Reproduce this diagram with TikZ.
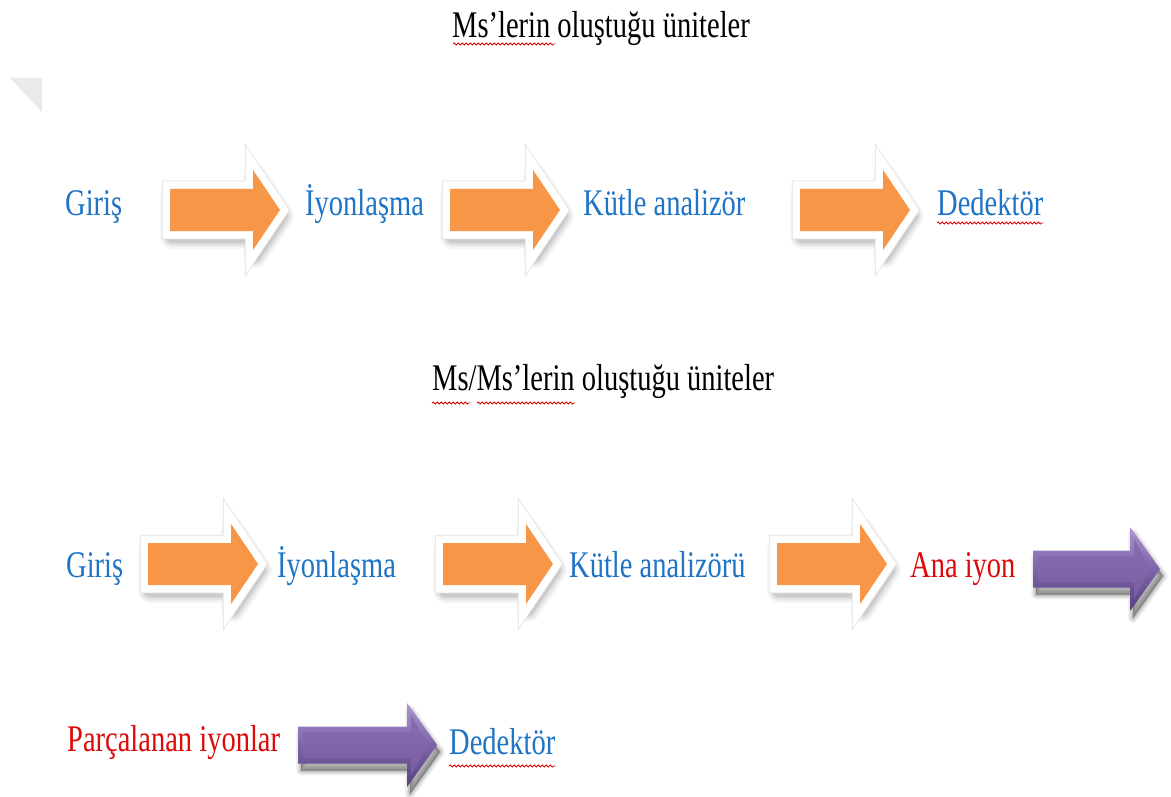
\documentclass[tikz,border=0pt]{standalone}
\usepackage{graphicx}
\usepackage{fontspec}
\setmainfont{Liberation Serif}
\usetikzlibrary{decorations.pathmorphing}

\definecolor{txtblue}{HTML}{1F74C6}
\definecolor{txtred}{HTML}{DC0A0A}
\definecolor{arroworange}{HTML}{F79646}
\definecolor{purplemid}{HTML}{7F63A8}
\definecolor{purplelight}{HTML}{AC96D2}
\definecolor{purpledark}{HTML}{56407E}
\definecolor{cornergray}{HTML}{EAEAEA}

% tall Times-like lettering
\newcommand\tall[1]{\scalebox{1}[1.32]{#1}}

% block arrow outline: tail at (0,0) centre line
\newcommand\orangeshape{(0,-21) -- (83,-21) -- (83,-40) -- (110,0) -- (83,40) -- (83,21) -- (0,21) -- cycle}

\tikzset{
  lbl/.style={anchor=base west, inner sep=0pt, font=\fontsize{28.5}{30}\selectfont},
  blue lbl/.style={lbl, text=txtblue},
  red lbl/.style={lbl, text=txtred},
  title lbl/.style={lbl, text=black},
  squiggle/.style={draw=red!85!black, line width=0.8pt,
    decorate, decoration={snake, segment length=4pt, amplitude=1pt}},
  pics/orangearrow/.style={code={
    \foreach \w/\o in {24/0.035,20/0.045,16/0.06,12/0.08}{
      \draw[black, draw opacity=\o, line width=\w pt, line join=round,
            shift={(2,6)}] \orangeshape;}
    \draw[black!12, line width=16.5pt, line join=miter] \orangeshape;
    \filldraw[white, line width=15pt, line join=miter] \orangeshape;
    \fill[arroworange] \orangeshape;
  }},
  pics/purplearrow/.style={code={
    \pgfmathsetmacro\hb{#1-30}
    \pgfmathsetmacro\hi{#1-26}
    \pgfmathsetmacro\tp{#1-9}
    \foreach \w/\o in {10/0.05,7/0.07,4/0.09,1/0.12}{
      \filldraw[black, fill opacity=\o, draw opacity=\o, line width=\w pt,
        line join=round, shift={(3,7)}]
        (0,-18.5) -- (\hb,-18.5) -- (\hb,-42) -- (#1,0) -- (\hb,42) -- (\hb,18.5) -- (0,18.5) -- cycle;}
    \shade[top color=purplelight, bottom color=purpledark, middle color=purplemid]
      (0,-18.5) -- (\hb,-18.5) -- (\hb,-42) -- (#1,0) -- (\hb,42) -- (\hb,18.5) -- (0,18.5) -- cycle;
    \shade[top color=purplemid!80!purplelight, bottom color=purplemid!85!purpledark]
      (5,-13) -- (\hi,-13) -- (\hi,-30) -- (\tp,0) -- (\hi,30) -- (\hi,13) -- (5,13) -- cycle;
  }}
}

\begin{document}
\begin{tikzpicture}[x=1pt, y=-1pt]
  \fill[white] (0,0) rectangle (1171,797);
  \useasboundingbox (0,0) rectangle (1171,797);

  % small grey corner mark
  \fill[cornergray] (10,78) -- (42,78) -- (42,112) -- cycle;

  % ---- first chain ----
  \node[title lbl] (t1) at (452,38) {\tall{Ms’lerin oluştuğu üniteler}};

  \node[blue lbl] (a1) at (65,215)  {\tall{Giriş}};
  \node[blue lbl] (a2) at (305,215) {\tall{İyonlaşma}};
  \node[blue lbl] (a3) at (583,215) {\tall{Kütle analizör}};
  \node[blue lbl] (a4) at (937,215) {\tall{Dedektör}};

  \pic at (170,210) {orangearrow};
  \pic at (450,210) {orangearrow};
  \pic at (800,210) {orangearrow};

  % ---- second chain ----
  \node[title lbl] (t2) at (432,390) {\tall{Ms/Ms’lerin oluştuğu üniteler}};

  \node[blue lbl] (b1) at (66,577)  {\tall{Giriş}};
  \node[blue lbl] (b2) at (277,577) {\tall{İyonlaşma}};
  \node[blue lbl] (b3) at (569,577) {\tall{Kütle analizörü}};
  \node[red lbl]  (b4) at (910,577) {\tall{Ana iyon}};

  \pic at (148,564) {orangearrow};
  \pic at (443,564) {orangearrow};
  \pic at (777,564) {orangearrow};
  \pic at (1033,569) {purplearrow=127};

  \node[red lbl]  (c1) at (67,751)  {\tall{Parçalanan iyonlar}};
  \node[blue lbl] (c2) at (449,754) {\tall{Dedektör}};

  \pic at (298,745) {purplearrow=139};

  % spelling marks
  \draw[squiggle] (453,44) -- (555,44);
  \draw[squiggle] (432,403) -- (470,403);
  \draw[squiggle] (477,403) -- (575,403);
  \draw[squiggle] ([yshift=-8pt]a4.base west) -- ([yshift=-8pt]a4.base east);
  \draw[squiggle] ([yshift=-12pt]c2.base west) -- ([yshift=-12pt]c2.base east);
\end{tikzpicture}
\end{document}
